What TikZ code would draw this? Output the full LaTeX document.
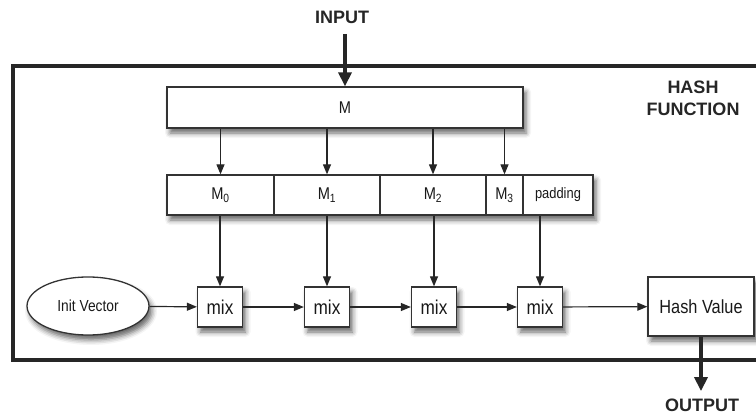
\documentclass[tikz,border=0pt]{standalone}
\usepackage{fontspec}
\setmainfont{Liberation Sans}
\newfontfamily\narrow{Liberation Sans}[FakeStretch=0.86]
\usetikzlibrary{arrows.meta}
\usetikzlibrary{shapes.geometric}
\usetikzlibrary{shadows.blur}

\begin{document}
\begin{tikzpicture}[x=1pt,y=-1pt,
  frame/.style={draw=black!85,line width=4pt},
  box/.style={draw=black!80,line width=1.3pt,fill=white,inner sep=0pt,text=black!90,
    font=\narrow\fontsize{17}{19}\selectfont},
  shade/.style={blur shadow={shadow xshift=3pt,shadow yshift=-5pt,shadow blur radius=5pt,shadow opacity=60}},
  arr/.style={draw=black!85,line width=1.2pt,-{Triangle[length=10pt,width=8pt]}},
  bigarr/.style={draw=black!85,line width=3.5pt,-{Triangle[length=14pt,width=13pt]}},
  caps/.style={font=\bfseries\fontsize{18}{22}\selectfont,text=black!85,align=center}]

\useasboundingbox (0,0) rectangle (756,417);
\draw[frame] (775,66) -- (13,66) -- (13,360) -- (775,360);

\node[caps] (input) at (342,17) {INPUT};
\node[caps] (output) at (702,405) {OUTPUT};
\node[caps] (hf) at (693,98) {HASH\\FUNCTION};

\node[box,shade,minimum width=356pt,minimum height=41pt] (m) at (345,107.5) {M};

\fill[white,shade] (167,175) rectangle (593,215);
\node[box,minimum width=107pt,minimum height=40pt] (m0) at (220.5,195) {M\textsubscript{0}};
\node[box,minimum width=106pt,minimum height=40pt] (m1) at (327,195) {M\textsubscript{1}};
\node[box,minimum width=106pt,minimum height=40pt] (m2) at (433,195) {M\textsubscript{2}};
\node[box,minimum width=37pt,minimum height=40pt] (m3) at (504.5,195) {M\textsubscript{3}};
\node[box,minimum width=70pt,minimum height=40pt,font=\narrow\fontsize{15}{17}\selectfont] (pad) at (558,195) {padding};

\node[box,shade,ellipse,minimum width=122pt,minimum height=58pt,font=\narrow\fontsize{16}{18}\selectfont] (iv) at (88,306) {Init Vector};
\foreach \i/\x in {1/220,2/327,3/434,4/540}
  \node[box,shade,minimum width=45pt,minimum height=40pt,font=\narrow\fontsize{20}{22}\selectfont] (mix\i) at (\x,307) {mix};
\node[box,shade,minimum width=106pt,minimum height=59pt,font=\narrow\fontsize{19}{21}\selectfont] (hv) at (701,306.5) {Hash Value};

\draw[bigarr,shorten <=7pt] (input.south -| m.north) -- (m.north);
\foreach \c in {m0,m1,m2,m3} \draw[arr] (m.south -| \c.north) -- (\c.north);
\foreach \c/\k in {m0/1,m1/2,m2/3,pad/4} \draw[arr] (\c.south -| mix\k.north) -- (mix\k.north);
\draw[arr] (iv) -- (mix1);
\draw[arr] (mix1) -- (mix2);
\draw[arr] (mix2) -- (mix3);
\draw[arr] (mix3) -- (mix4);
\draw[arr] (mix4) -- (hv);
\draw[bigarr,shorten >=4pt] (hv.south) -- (hv.south |- output.north);

\end{tikzpicture}
\end{document}
